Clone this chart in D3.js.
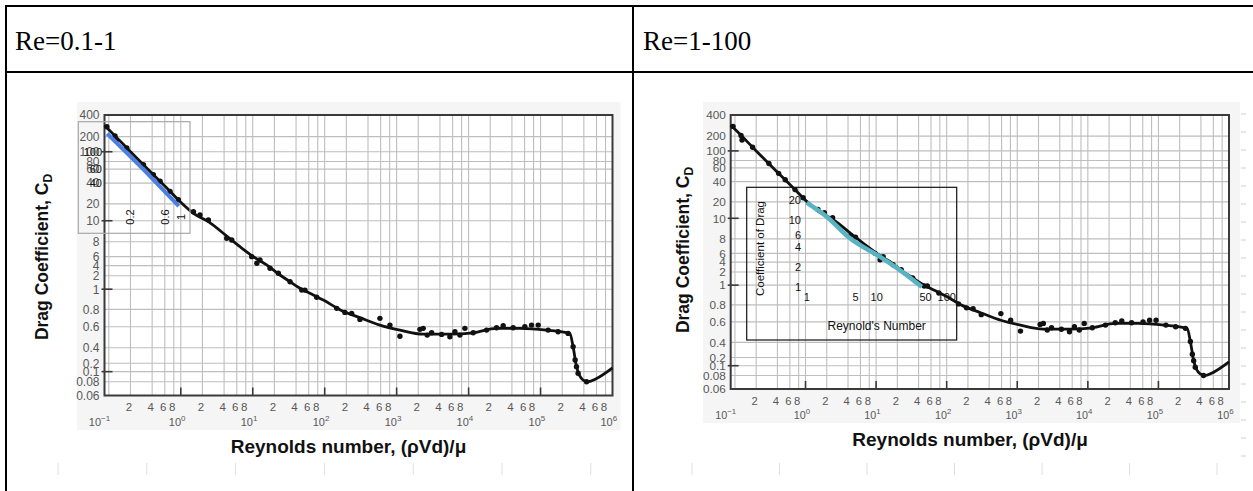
<!DOCTYPE html>
<html><head><meta charset="utf-8">
<script src="https://cdn.jsdelivr.net/npm/d3@7"></script>
<style>html,body{margin:0;padding:0;background:#fff;} svg{display:block;}</style>
</head><body>
<svg id="c" width="1253" height="491"></svg>
<script>
// ---------------- data ----------------
const cellTitles = ["Re=0.1-1", "Re=1-100"];
const yTickValues = [400,200,100,80,60,40,20,10,8,6,4,2,1,0.8,0.6,0.4,0.2,0.1,0.08,0.06];
const yTickLabels = ["400","200","100","80","60","40","20","10","8","6","4","2","1","0.8","0.6","0.4","0.2","0.1","0.08","0.06"];
const yMajorTicks = [100,10,1,0.1];
const xDecades = [-1,0,1,2,3,4,5,6];
const xMinorMultipliers = [2,4,6,8];
const xTitle = "Reynolds number, (\u03C1Vd)/\u03BC";
const yTitleMain = "Drag Coefficient, C";
const yTitleSub = "D";

// main drag curve (Re, Cd)
const curveRe = [0.0871,0.1,0.2,0.4,0.6,1,1.5,2.42,4.35,6.66,10.2,15.6,23.9,33,45.4,69.5,95.7,168,309,586,1111,2340,5495,11590,24480,51580,121000,255000,283700,316000,390600,458000,600000,1000000];
const curveCd = [285,250,100,52.8,36.3,21.2,13.6,9.9,8.5,7.27,6,4.13,2.1,1.47,1.05,0.938,0.887,0.79,0.698,0.617,0.563,0.521,0.521,0.534,0.582,0.582,0.563,0.528,0.408,0.151,0.083,0.08,0.086,0.137];

// measured points
const dotRe = [0.094,0.122,0.126,0.178,0.303,0.416,0.516,0.71,0.926,1.5,1.85,2.42,4.35,5.11,9.68,11.4,12.6,17.4,22.7,33,48,53.2,77.4,147,191,237,309,586,807,1111,2108,2340,2661,3062,4217,5495,6457,7568,8890,11590,17780,24480,30260,41620,60530,75000,92700,127600,175400,241600,283700,302500,316000,332600,435500];
const dotCd = [275,204,167,119,71.3,51,42.2,30.4,23,14.5,12.7,10.3,8.3,8.15,6,4.46,5.17,3.34,2.36,1.47,0.99,0.99,0.915,0.809,0.761,0.749,0.678,0.69,0.617,0.50,0.571,0.582,0.511,0.534,0.518,0.494,0.545,0.511,0.582,0.534,0.563,0.589,0.61,0.589,0.6,0.617,0.617,0.563,0.545,0.528,0.408,0.232,0.151,0.0965,0.08];

// inset A (Re 0.1-1)
const insetARe = [0.095,0.30,0.94];
const insetACd = [169,59.9,20.4];
const insetAYTicks = [100,60,40];
const insetAXTicks = [0.2,0.6,1];

// inset B (Re 1-100)
const insetBRe = [1,1.93,4.15,11.1,21.4,44];
const insetBCd = [18.2,11.2,5.32,2.82,1.78,1.0];
const insetBYTicks = [20,10,6,4,2,1];
const insetBXTicks = [1,5,10,50,100];
const insetBXTitle = "Reynold's Number";
const insetBYTitle = "Coefficient of Drag";

// ---------------- layout ----------------
// positions (fraction of plot height) of the printed y grid lines of the scanned axis
const yTickFrac = [0,0.077,0.131,0.166,0.193,0.243,0.317,0.377,0.452,0.505,0.537,0.573,0.621,0.693,0.755,0.830,0.885,0.915,0.951,1];
const xDomain = [0.0871, 1e6];
const frames = [
  {x:104.5, y:115, w:508, h:280.5, bg:{l:27.5, r:8, t:13, b:34.5}, yTitleX:48, yTitleY:257, xTitleY:452.5},
  {x:730.7, y:115, w:498.3, h:274, bg:{l:27.7, r:11, t:13, b:34}, yTitleX:689, yTitleY:250, xTitleY:446}
];

const svg = d3.select("#c");
const sans = "'Liberation Sans', Arial, Helvetica, sans-serif";
const tickGrey = "#585858";

// ---------------- table ----------------
const tbl = svg.append("g").attr("stroke","#000").attr("stroke-width",2);
tbl.append("line").attr("x1",5).attr("x2",1253).attr("y1",6).attr("y2",6);
tbl.append("line").attr("x1",5).attr("x2",1253).attr("y1",72).attr("y2",72);
tbl.append("line").attr("x1",6).attr("x2",6).attr("y1",5).attr("y2",491);
tbl.append("line").attr("x1",633).attr("x2",633).attr("y1",5).attr("y2",491);
svg.selectAll("text.title").data(cellTitles).join("text")
  .attr("class","title").attr("x",(d,i)=>i?643:15).attr("y",49.5)
  .attr("font-family","'Liberation Serif', 'Times New Roman', serif").attr("font-size",27)
  .attr("fill","#000").text(d=>d);

// ---------------- charts ----------------
function drawChart(fr) {
  const g = svg.append("g");
  const x = d3.scaleLog().domain(xDomain).range([fr.x, fr.x+fr.w]);
  const yl = d3.scaleLinear().domain(yTickValues.map(Math.log10)).range(yTickFrac.map(f=>fr.y+f*fr.h));
  const y = v => yl(Math.log10(v));
  const k = fr.h/280.5;

  g.append("rect").attr("x",fr.x-fr.bg.l).attr("y",fr.y-fr.bg.t)
    .attr("width",fr.w+fr.bg.l+fr.bg.r).attr("height",fr.h+fr.bg.t+fr.bg.b).attr("fill","#f5f5f5");
  g.append("rect").attr("x",fr.x).attr("y",fr.y).attr("width",fr.w).attr("height",fr.h).attr("fill","#fff");

  // grid
  const vgrid = [];
  xDecades.forEach(d => [1].concat(xMinorMultipliers).forEach(m => {
    const v = m*Math.pow(10,d); if (v>=xDomain[0] && v<=xDomain[1]) vgrid.push(v);
  }));
  g.append("g").selectAll("line").data(vgrid).join("line")
    .attr("x1",d=>x(d)).attr("x2",d=>x(d)).attr("y1",fr.y).attr("y2",fr.y+fr.h)
    .attr("stroke","#bebebe").attr("stroke-width",1.1);
  g.append("g").selectAll("line").data(yTickValues).join("line")
    .attr("x1",fr.x).attr("x2",fr.x+fr.w).attr("y1",d=>y(d)).attr("y2",d=>y(d))
    .attr("stroke","#bebebe").attr("stroke-width",1.1);

  // frame
  g.append("rect").attr("x",fr.x).attr("y",fr.y).attr("width",fr.w).attr("height",fr.h)
    .attr("fill","none").attr("stroke","#3a3a3a").attr("stroke-width",2);
  // major ticks
  g.append("g").selectAll("line").data(yMajorTicks).join("line")
    .attr("x1",fr.x-3).attr("x2",fr.x+8).attr("y1",d=>y(d)).attr("y2",d=>y(d))
    .attr("stroke","#3a3a3a").attr("stroke-width",1.6);
  g.append("g").selectAll("line").data(xDecades.slice(1,-1)).join("line")
    .attr("x1",d=>x(Math.pow(10,d))).attr("x2",d=>x(Math.pow(10,d)))
    .attr("y1",fr.y+fr.h).attr("y2",fr.y+fr.h-8)
    .attr("stroke","#3a3a3a").attr("stroke-width",1.6);

  // y tick labels
  g.append("g").selectAll("text").data(yTickValues).join("text")
    .attr("x",fr.x-5).attr("y",d=>y(d)).attr("dy","0.36em").attr("text-anchor","end")
    .attr("font-family",sans).attr("font-size",12*k).attr("fill",tickGrey)
    .text((d,i)=>yTickLabels[i]);
  // x minor labels
  const minors = [];
  xDecades.slice(0,-1).forEach(d => xMinorMultipliers.forEach(m => minors.push({m, v:m*Math.pow(10,d)})));
  g.append("g").selectAll("text").data(minors).join("text")
    .attr("x",d=>x(d.v)-1.5).attr("y",fr.y+fr.h+15.5).attr("text-anchor","middle")
    .attr("font-family",sans).attr("font-size",11.5*k).attr("fill",tickGrey).text(d=>d.m);
  // decade labels
  const dl = g.append("g").selectAll("text").data(xDecades).join("text")
    .attr("x",(d,i)=>x(Math.pow(10,d)) - 12*k - (i===0?8:0)).attr("y",fr.y+fr.h+30)
    .attr("font-family",sans).attr("font-size",11*k).attr("fill",tickGrey);
  dl.append("tspan").text("10");
  dl.append("tspan").attr("dy",-5).attr("font-size",8*k).text(d=>d<0?"\u2212"+(-d):d);

  // curve
  const line = d3.line().x((d,i)=>x(curveRe[i])).y((d,i)=>y(curveCd[i])).curve(d3.curveMonotoneX);
  g.append("path").datum(curveRe).attr("d",line).attr("fill","none")
    .attr("stroke","#111").attr("stroke-width",2.8);
  g.append("g").selectAll("circle").data(dotRe).join("circle")
    .attr("cx",d=>x(d)).attr("cy",(d,i)=>y(dotCd[i])).attr("r",2.7).attr("fill","#111");

  // axis titles
  g.append("text").attr("x",fr.x+fr.w/2-10*k).attr("y",fr.xTitleY).attr("text-anchor","middle")
    .attr("font-family",sans).attr("font-weight","bold").attr("font-size",19).attr("fill","#111")
    .text(xTitle);
  const yt = g.append("text").attr("transform",`translate(${fr.yTitleX},${fr.yTitleY}) rotate(-90)`)
    .attr("text-anchor","middle").attr("font-family",sans).attr("font-weight","bold")
    .attr("font-size",17.5).attr("fill","#111");
  yt.append("tspan").text(yTitleMain);
  yt.append("tspan").attr("dy",4).attr("font-size",12).text(yTitleSub);
  return {x, y, g};
}

const charts = frames.map(drawChart);

// ---------------- inset A ----------------
{
  const c = charts[0];
  const box = {x:78.3, y:121.7, w:111.7, h:111.6};
  const iy = d3.scaleLog().domain([9.2, 240]).range([box.y+box.h, box.y]);
  const g = svg.append("g");
  g.append("rect").attr("x",box.x).attr("y",box.y).attr("width",box.w).attr("height",box.h)
    .attr("fill","none").attr("stroke","#a8a8a8").attr("stroke-width",1.2);
  g.append("g").selectAll("text").data(insetAYTicks).join("text")
    .attr("x",102).attr("y",d=>iy(d)).attr("dy","0.36em").attr("text-anchor","end")
    .attr("font-family",sans).attr("font-size",11).attr("fill","#111").text(d=>d);
  g.append("g").selectAll("text").data(insetAXTicks).join("text")
    .attr("transform",d=>`translate(${c.x(d)},217) rotate(-90)`).attr("dy","0.36em")
    .attr("text-anchor","middle").attr("font-family",sans).attr("font-size",11).attr("fill","#111").text(d=>d);
  g.append("path").datum(insetARe)
    .attr("d",d3.line().x((d,i)=>c.x(insetARe[i])).y((d,i)=>iy(insetACd[i])))
    .attr("fill","none").attr("stroke","#4a7fe3").attr("stroke-width",4);
}

// ---------------- inset B ----------------
{
  const box = {x:746.7, y:187.3, w:210, h:152.7};
  const ix = d3.scaleLog().domain([0.139, 138.9]).range([box.x, box.x+box.w]);
  const iy = d3.scaleLog().domain([0.159, 31]).range([box.y+box.h, box.y]);
  const g = svg.append("g");
  g.append("rect").attr("x",box.x).attr("y",box.y).attr("width",box.w).attr("height",box.h)
    .attr("fill","none").attr("stroke","#111").attr("stroke-width",1.2);
  g.append("g").selectAll("text").data(insetBYTicks).join("text")
    .attr("x",801).attr("y",d=>iy(d)).attr("dy","0.36em").attr("text-anchor","end")
    .attr("font-family",sans).attr("font-size",11).attr("fill","#111").text(d=>d);
  g.append("g").selectAll("text").data(insetBXTicks).join("text")
    .attr("x",d=>ix(d)).attr("y",297.5).attr("dy","0.36em").attr("text-anchor","middle")
    .attr("font-family",sans).attr("font-size",11).attr("fill","#111").text(d=>d);
  g.append("text").attr("x",ix(10)).attr("y",326).attr("dy","0.36em").attr("text-anchor","middle")
    .attr("font-family",sans).attr("font-size",12).attr("fill","#111").text(insetBXTitle);
  g.append("text").attr("transform",`translate(760,248.5) rotate(-90)`).attr("dy","0.36em")
    .attr("text-anchor","middle").attr("font-family",sans).attr("font-size",11.5).attr("fill","#111").text(insetBYTitle);
  g.append("path").datum(insetBRe)
    .attr("d",d3.line().x((d,i)=>ix(insetBRe[i])).y((d,i)=>iy(insetBCd[i])).curve(d3.curveMonotoneX))
    .attr("fill","none").attr("stroke","#58b4c2").attr("stroke-width",4.5);
}

// ---------------- faint scan artefacts ----------------
svg.append("g").selectAll("line").data(d3.range(7)).join("line")
  .attr("x1",d=>58+d*88.8).attr("x2",d=>58+d*88.8).attr("y1",463).attr("y2",475)
  .attr("stroke","#dedede").attr("stroke-width",1);
svg.append("g").selectAll("line").data(d3.range(7)).join("line")
  .attr("x1",d=>692+d*87.5).attr("x2",d=>692+d*87.5).attr("y1",463).attr("y2",475)
  .attr("stroke","#dedede").attr("stroke-width",1);
svg.append("g").selectAll("line").data(d3.range(20)).join("line")
  .attr("x1",1241).attr("x2",1246).attr("y1",d=>114+d*18).attr("y2",d=>114+d*18)
  .attr("stroke","#d0d0d0").attr("stroke-width",1);
</script>
</body></html>
